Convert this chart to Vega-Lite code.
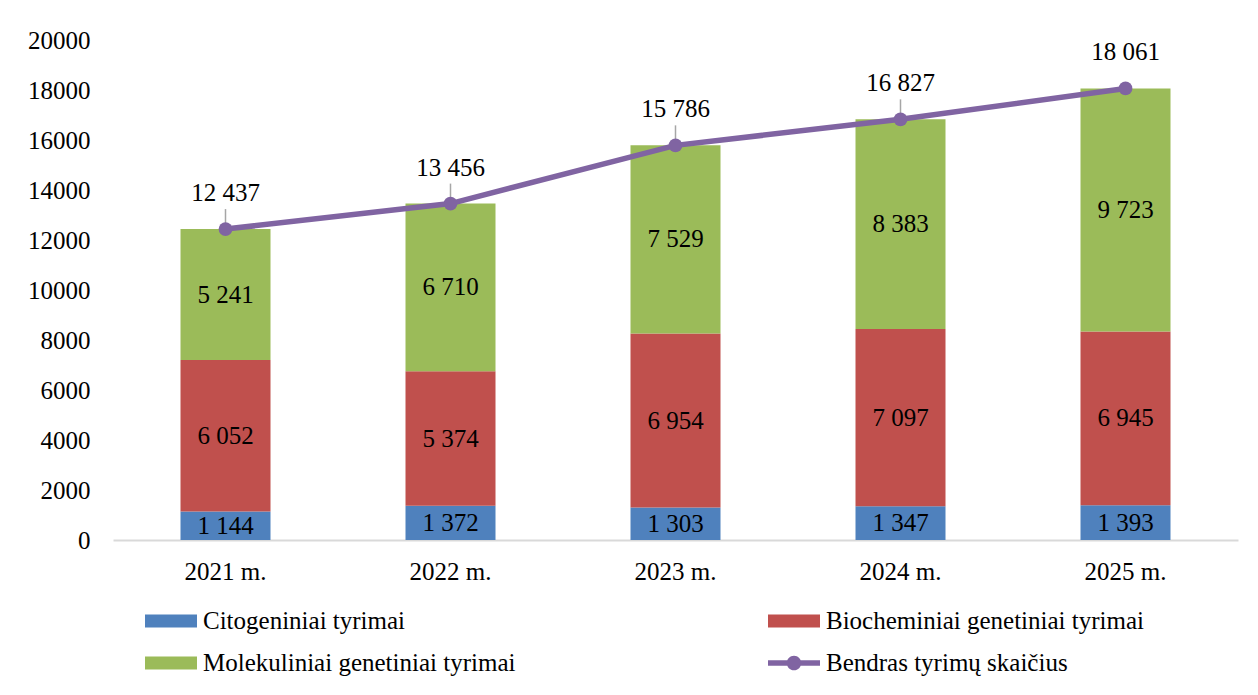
{
  "$schema": "https://vega.github.io/schema/vega-lite/v6.json",
  "width": 1125,
  "height": 500,
  "autosize": {"type": "none"},
  "padding": {"left": 113, "top": 40, "right": 20, "bottom": 155},
  "background": "white",
  "config": {
    "locale": {"number": {"decimal": ",", "thousands": " ", "grouping": [3], "currency": ["", " €"]}},
    "font": "Liberation Serif",
    "view": {"stroke": null},
    "text": {"font": "Liberation Serif", "fontSize": 25, "color": "#000000"}
  },
  "datasets": {
    "parts": [
      {"year": "2021 m.", "series": "Citogeniniai tyrimai", "value": 1144},
      {"year": "2021 m.", "series": "Biocheminiai genetiniai tyrimai", "value": 6052},
      {"year": "2021 m.", "series": "Molekuliniai genetiniai tyrimai", "value": 5241},
      {"year": "2022 m.", "series": "Citogeniniai tyrimai", "value": 1372},
      {"year": "2022 m.", "series": "Biocheminiai genetiniai tyrimai", "value": 5374},
      {"year": "2022 m.", "series": "Molekuliniai genetiniai tyrimai", "value": 6710},
      {"year": "2023 m.", "series": "Citogeniniai tyrimai", "value": 1303},
      {"year": "2023 m.", "series": "Biocheminiai genetiniai tyrimai", "value": 6954},
      {"year": "2023 m.", "series": "Molekuliniai genetiniai tyrimai", "value": 7529},
      {"year": "2024 m.", "series": "Citogeniniai tyrimai", "value": 1347},
      {"year": "2024 m.", "series": "Biocheminiai genetiniai tyrimai", "value": 7097},
      {"year": "2024 m.", "series": "Molekuliniai genetiniai tyrimai", "value": 8383},
      {"year": "2025 m.", "series": "Citogeniniai tyrimai", "value": 1393},
      {"year": "2025 m.", "series": "Biocheminiai genetiniai tyrimai", "value": 6945},
      {"year": "2025 m.", "series": "Molekuliniai genetiniai tyrimai", "value": 9723}
    ],
    "totals": [
      {"year": "2021 m.", "total": 12437},
      {"year": "2022 m.", "total": 13456},
      {"year": "2023 m.", "total": 15786},
      {"year": "2024 m.", "total": 16827},
      {"year": "2025 m.", "total": 18061}
    ]
  },
  "encoding": {
    "x": {
      "field": "year",
      "type": "nominal",
      "scale": {"paddingInner": 0.6, "paddingOuter": 0.3},
      "axis": {
        "title": null,
        "labelAngle": 0,
        "ticks": false,
        "domainColor": "#D9D9D9",
        "domainWidth": 2,
        "labelFont": "Liberation Serif",
        "labelFontSize": 25,
        "labelColor": "#000000",
        "labelPadding": 19
      }
    }
  },
  "layer": [
    {
      "data": {"name": "parts"},
      "transform": [
        {"calculate": "indexof(['Citogeniniai tyrimai','Biocheminiai genetiniai tyrimai','Molekuliniai genetiniai tyrimai'], datum.series)", "as": "ord"},
        {"stack": "value", "groupby": ["year"], "sort": [{"field": "ord", "order": "ascending"}], "as": ["v0", "v1"]},
        {"calculate": "(datum.v0 + datum.v1) / 2", "as": "mid"}
      ],
      "layer": [
        {
          "mark": {"type": "bar"},
          "encoding": {
            "y": {
              "field": "v0",
              "type": "quantitative",
              "scale": {"domain": [0, 20000], "nice": false},
              "axis": {
                "title": null,
                "values": [0, 2000, 4000, 6000, 8000, 10000, 12000, 14000, 16000, 18000, 20000],
                "format": "d",
                "grid": false,
                "domain": false,
                "ticks": false,
                "labelPadding": 23,
                "labelFont": "Liberation Serif",
                "labelFontSize": 25,
                "labelColor": "#000000"
              }
            },
            "y2": {"field": "v1"},
            "color": {
              "field": "series",
              "type": "nominal",
              "scale": {
                "domain": ["Citogeniniai tyrimai", "Biocheminiai genetiniai tyrimai", "Molekuliniai genetiniai tyrimai", "Bendras tyrimų skaičius"],
                "range": ["#4F81BD", "#C0504D", "#9BBB59", "#8064A2"]
              },
              "legend": {
                "orient": "none",
                "direction": "horizontal",
                "legendX": 32,
                "legendY": 555,
                "columns": 2,
                "title": null,
                "padding": 0,
                "symbolSize": 2704,
                "symbolStrokeWidth": 0,
                "labelFont": "Liberation Serif",
                "labelFontSize": 25,
                "labelColor": "#000000",
                "labelOffset": 6,
                "labelLimit": 600,
                "columnPadding": 252,
                "rowPadding": 3,
                "encode": {
                  "symbols": {
                    "update": {
                      "shape": {"signal": "datum.value === 'Bendras tyrimų skaičius' ? 'M-1,-0.11 L1,-0.11 L1,0.11 L-1,0.11 Z M0.28,0 A0.28,0.28 0 1 1 -0.28,0 A0.28,0.28 0 1 1 0.28,0 Z' : 'M-1,-0.25 L1,-0.25 L1,0.25 L-1,0.25 Z'"},
                      "strokeWidth": {"value": 0}
                    }
                  }
                }
              }
            }
          }
        },
        {
          "mark": {"type": "text", "baseline": "middle", "align": "center", "fontSize": 25},
          "encoding": {
            "y": {"field": "mid", "type": "quantitative"},
            "text": {"field": "value", "type": "quantitative", "format": ",d"}
          }
        }
      ]
    },
    {
      "data": {"name": "totals"},
      "layer": [
        {
          "transform": [{"filter": "datum.year !== '2025 m.'"}],
          "mark": {"type": "rule", "color": "#A6A6A6", "strokeWidth": 1.5, "y2Offset": -20},
          "encoding": {
            "y": {"field": "total", "type": "quantitative"},
            "y2": {"field": "total"}
          }
        },
        {
          "mark": {"type": "line", "color": "#8064A2", "strokeWidth": 5.5},
          "encoding": {
            "y": {"field": "total", "type": "quantitative"}
          }
        },
        {
          "mark": {"type": "point", "filled": true, "opacity": 1, "size": 190, "shape": "circle"},
          "encoding": {
            "y": {"field": "total", "type": "quantitative"},
            "color": {"datum": "Bendras tyrimų skaičius", "type": "nominal"}
          }
        },
        {
          "mark": {"type": "text", "baseline": "middle", "align": "center", "fontSize": 25, "dy": -36},
          "encoding": {
            "y": {"field": "total", "type": "quantitative"},
            "text": {"field": "total", "type": "quantitative", "format": ",d"}
          }
        }
      ]
    }
  ]
}
